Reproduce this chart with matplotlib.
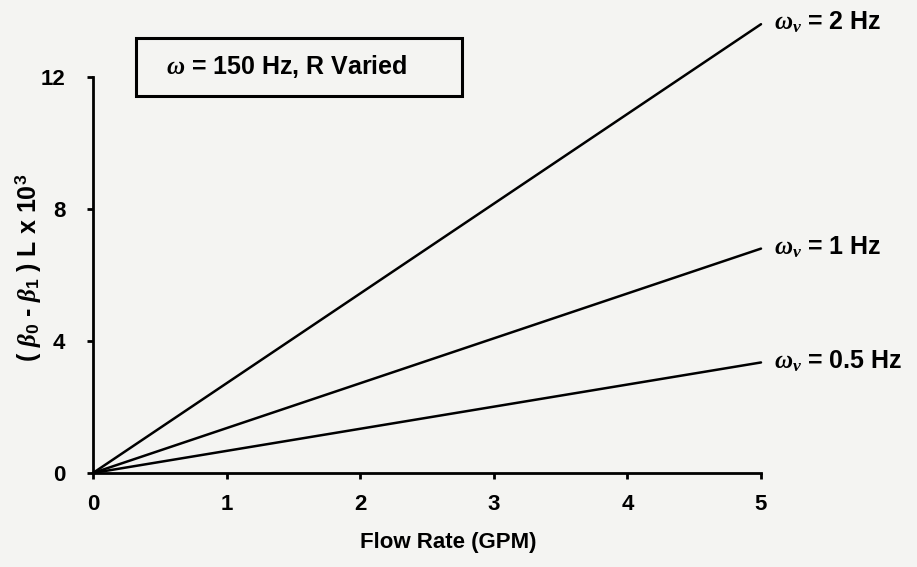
import numpy as np
import matplotlib.pyplot as plt
from matplotlib.patches import Rectangle

# flow rate (GPM) end points and line end values (x 10^3)
flow = [0, 5]
curves = {
    r'$\omega_\nu$ = 2 Hz': [0, 13.6],
    r'$\omega_\nu$ = 1 Hz': [0, 6.8],
    r'$\omega_\nu$ = 0.5 Hz': [0, 3.35],
}
xticks = [0, 1, 2, 3, 4, 5]
yticks = [0, 4, 8, 12]

plt.rcParams['font.family'] = ['Liberation Sans', 'DejaVu Sans']
plt.rcParams['font.weight'] = 'bold'
plt.rcParams['mathtext.fontset'] = 'custom'
plt.rcParams['mathtext.it'] = 'Liberation Serif:italic'
plt.rcParams['mathtext.rm'] = 'Liberation Sans:bold'
plt.rcParams['mathtext.bf'] = 'Liberation Sans:bold'

bg = '#f4f4f2'
fs = 16
W, H = 917, 567
fig = plt.figure(figsize=(9.17, 5.67), dpi=100, facecolor=bg)
ax = fig.add_axes([93 / W, 94 / H, 668 / W, 462 / H])
ax.set_facecolor(bg)

for lab, vals in curves.items():
    ax.plot(flow, vals, color='black', lw=1.8, clip_on=False, solid_capstyle='round')
    ax.text(flow[-1] + 0.1, vals[-1] + 0.05, lab, fontsize=18, fontweight='bold',
            va='center', ha='left')

ax.set_xlim(0, 5)
ax.set_ylim(0, 14)
ax.spines['top'].set_visible(False)
ax.spines['right'].set_visible(False)
ax.spines['left'].set_bounds(0, 12)
ax.spines['bottom'].set_bounds(0, 5)
for s in ['left', 'bottom']:
    ax.spines[s].set_linewidth(2)
ax.set_xticks(xticks)
ax.set_yticks(yticks)
ax.tick_params(direction='out', length=4, width=2, labelsize=fs)
ax.tick_params(axis='x', pad=11)
ax.tick_params(axis='y', pad=16)
for t in ax.get_xticklabels() + ax.get_yticklabels():
    t.set_fontweight('bold')

ax.set_xlabel('Flow Rate (GPM)', fontsize=fs, fontweight='bold')
ax.xaxis.set_label_coords(0.532, -0.128)
ax.set_ylabel(r'( $\beta_0$ - $\beta_1$ ) L x 10$^3$', fontsize=18, fontweight='bold')
ax.yaxis.set_label_coords(-0.075, 0.444)

# caption box
fig.patches.append(Rectangle((136 / W, 1 - 96 / H), 326 / W, 58 / H, transform=fig.transFigure,
                             fc='none', ec='black', lw=2.2))
fig.text(287 / W, 1 - 67 / H, r'$\omega$ = 150 Hz, R Varied', fontsize=18,
         fontweight='bold', ha='center', va='center')

fig.savefig('out.png', dpi=100, facecolor=bg)
